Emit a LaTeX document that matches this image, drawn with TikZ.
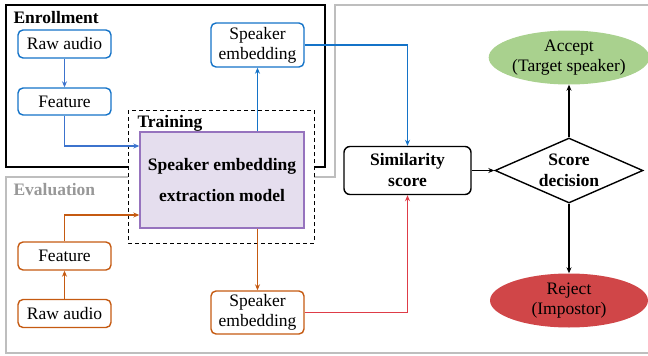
\documentclass[tikz,border=0pt]{standalone}
\usepackage{fontspec}
\setmainfont{Liberation Serif}
\usetikzlibrary{shapes.geometric,arrows.meta}

\definecolor{enrblue}{RGB}{20,115,200}
\definecolor{enrarrowblue}{RGB}{60,115,205}
\definecolor{evalorange}{RGB}{197,90,17}
\definecolor{scorered}{RGB}{222,60,72}
\definecolor{acceptgreen}{RGB}{169,209,142}
\definecolor{rejectred}{RGB}{208,70,72}
\definecolor{modelfill}{RGB}{229,222,238}
\definecolor{modeldraw}{RGB}{150,115,190}
\definecolor{regiongray}{RGB}{190,190,190}

\tikzset{
  every node/.style={font=\fontsize{17.5}{20}\selectfont},
  >={Stealth[length=6pt,width=5pt]},
  enrbox/.style={draw=enrblue,line width=1.4pt,rounded corners=5pt,fill=white,
    minimum width=93pt,align=center,inner sep=0pt},
  evalbox/.style={enrbox,draw=evalorange},
  enrarrow/.style={->,draw=enrarrowblue,line width=1.3pt},
  evalarrow/.style={->,draw=evalorange,line width=1.3pt},
  decarrow/.style={->,draw=black,line width=1.4pt}
}

\begin{document}
\begin{tikzpicture}[x=1pt,y=-1pt,
  outcome/.style={ellipse,draw=none,minimum width=158pt,minimum height=54pt,
    inner sep=0pt,align=center}]
  \useasboundingbox (0,0) rectangle (648,356);

  % regions
  \draw[regiongray,line width=1.5pt]
    (335,5) -- (655,5) -- (655,353) -- (6,353) -- (6,177) -- (335,177) -- cycle;
  \draw[black,line width=1.8pt] (6,5) rectangle (325,167);
  \node[anchor=west,font=\fontsize{17.5}{20}\selectfont\bfseries] (enrlabel) at (10,18) {Enrollment};
  \node[anchor=west,text=regiongray!80!black,font=\fontsize{17.5}{20}\selectfont\bfseries] (evallabel) at (10,190) {Evaluation};

  % shared model
  \draw[dash pattern=on 4pt off 3pt,fill=white,line width=0.9pt] (128,110) rectangle (314,243);
  \node[anchor=west,font=\fontsize{17.5}{20}\selectfont\bfseries] (trainlabel) at (134,123) {Training};
  \node[draw=modeldraw,fill=modelfill,line width=1.4pt,minimum width=164pt,minimum height=96pt,
    align=center,inner sep=0pt,font=\fontsize{17.5}{31}\selectfont\bfseries]
    (model) at (222,180) {Speaker embedding\\extraction model};

  % enrollment branch
  \node[enrbox,minimum height=28pt] (enrraw) at (64.5,44) {Raw audio};
  \node[enrbox,minimum height=27pt] (enrfeat) at (64.5,101.5) {Feature};
  \node[enrbox,minimum height=44pt] (enremb) at (257.5,45) {Speaker\\embedding};

  % evaluation branch
  \node[evalbox,minimum height=28pt] (evalfeat) at (64.5,256) {Feature};
  \node[evalbox,minimum height=28pt] (evalraw) at (64.5,313.5) {Raw audio};
  \node[evalbox,minimum height=43pt] (evalemb) at (257.5,312.5) {Speaker\\embedding};

  % scoring
  \node[draw,line width=1.4pt,rounded corners=6pt,minimum width=127pt,minimum height=48pt,
    align=center,inner sep=0pt,font=\fontsize{17.5}{21}\selectfont\bfseries]
    (sim) at (407.5,170.5) {Similarity\\score};
  \node[diamond,draw,line width=1.4pt,inner sep=0pt,minimum width=148pt,minimum height=65pt,
    label={[align=center,font=\fontsize{17.5}{21}\selectfont\bfseries]center:Score\\decision}]
    (decide) at (569,170.5) {};
  \node[outcome,fill=acceptgreen] (accept) at (569,57.5) {Accept\\(Target speaker)};
  \node[outcome,fill=rejectred] (reject) at (569,300.5) {Reject\\(Impostor)};

  % connectors
  \draw[enrarrow] (enrraw) -- (enrfeat);
  \draw[enrarrow] (enrfeat.south) |- ([yshift=34pt]model.west);
  \draw[->,draw=enrblue,line width=1.3pt] (model.north -| enremb.south) -- (enremb.south);
  \draw[->,draw=enrblue,line width=1.3pt] (enremb.east) -| (sim.north);
  \draw[evalarrow] (evalraw) -- (evalfeat);
  \draw[evalarrow] (evalfeat.north) |- ([yshift=-35pt]model.west);
  \draw[evalarrow] (model.south -| evalemb.north) -- (evalemb.north);
  \draw[->,draw=scorered,line width=1.3pt] (evalemb.east) -| (sim.south);
  \draw[decarrow] (sim) -- (decide);
  \draw[decarrow] (decide) -- (accept);
  \draw[decarrow] (decide) -- (reject);
\end{tikzpicture}
\end{document}
